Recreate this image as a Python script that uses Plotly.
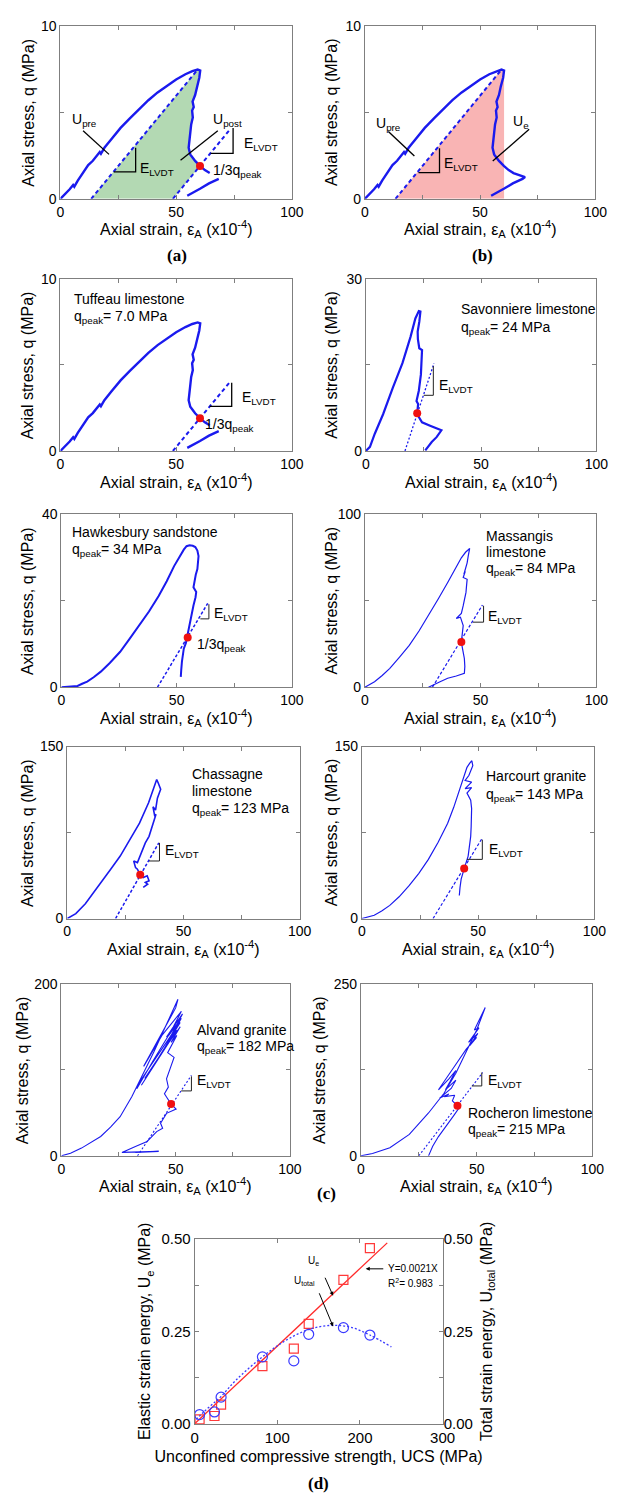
import plotly.graph_objects as go

W, H = 620, 1499
SANS = "Arial, 'Liberation Sans', Helvetica, sans-serif"
SERIF = "'Times New Roman', 'Liberation Serif', serif"
BLUE = "#1a1aee"
RED = "#f01010"
GREY = "#7f7f7f"
INK = "#222222"

# ---------------- stress-strain records (strain in 1e-4, stress in MPa) ----------------
# Tuffeau limestone, q_peak = 7.0 MPa
tuffeau_pre_strain = [0, 2, 4, 5.5, 6, 7.5, 9, 10.5, 12, 14, 16, 17, 17.5, 19, 22, 26, 30, 34, 38, 42, 46, 50, 54, 57, 59.3]
tuffeau_pre_stress = [0, 0.25, 0.55, 0.8, 0.7, 1.05, 1.35, 1.6, 1.95, 2.2, 2.55, 2.7, 2.6, 2.95, 3.45, 4.1, 4.65, 5.2, 5.7, 6.15, 6.55, 6.9, 7.2, 7.38, 7.47]
tuffeau_post_strain = [60.4, 60.0, 59.0, 58.2, 57.1, 57.6, 56.9, 57.2, 56.5, 56.1, 55.6, 55.4, 56.1, 58.2, 60.3, 62.4, 64.5, 67.0, 69.5, 68.4, 64.2, 60.3, 57.0, 54.8]
tuffeau_post_stress = [7.42, 7.0, 6.5, 6.0, 5.62, 5.3, 5.1, 4.7, 4.3, 3.7, 3.2, 2.95, 2.57, 2.19, 1.9, 1.66, 1.49, 1.36, 1.26, 1.15, 0.89, 0.58, 0.35, 0.18]
tuffeau_dot = [60.3, 1.9]
tuffeau_dot_index = 14            # position of the 1/3 q_peak point in the post-peak record
tuffeau_label_hidden = [17, 18]   # stretch of the hook covered by the 1/3 q_peak label
tuffeau_elvdt_pre = ([13.3, 59.3], [0, 7.47])
tuffeau_elvdt_post = ([48.6, 73.2], [0, 4.0])

# Savonniere limestone, q_peak = 24 MPa
savonniere_strain = [0, 1.8, 3.9, 7.5, 11.7, 15.9, 19.4, 21.5, 23.0, 23.7, 23.2, 22.5, 22.6, 23.2, 24.4, 24.2, 23.9, 23.0,
                     22.0, 22.7, 22.3, 23.0, 24.4, 27.9, 32.8, 30.7, 28.6, 25.8]
savonniere_stress = [0, 0.7, 3.0, 6.4, 11.0, 15.3, 19.9, 23.1, 24.4, 24.3, 22.5, 20.8, 19.5, 17.9, 17.6, 15.5, 13.3, 10.5,
                     8.7, 8.2, 6.55, 5.9, 5.0, 4.4, 3.6, 2.4, 1.55, 0.1]
savonniere_dot = [22.3, 6.55]
savonniere_elvdt = ([17.0, 29.6], [0, 15.3])

# Hawkesbury sandstone, q_peak = 34 MPa
hawkesbury_strain = [0, 4, 7, 9, 11.2, 14, 17.1, 21, 25.5, 29.5, 33.8, 38, 42.2, 45.7, 48.9, 51.2, 53.1, 54.3, 55.6, 57,
                     58.1, 59, 59.5, 59.2, 59, 58.3, 57.8, 57.3, 57.3, 58.5, 58.2, 57.3, 56.6, 56, 55.4, 54.8, 54,
                     53.1, 52.6, 52.3, 52, 51.8]
hawkesbury_stress = [0, 0.1, 0.3, 0.8, 1.3, 2.3, 3.6, 5.6, 8.2, 11.1, 14.3, 17.5, 21.1, 24.5, 28, 30.2, 31.8, 32.6, 32.8,
                     32.7, 32.4, 31.6, 30.3, 28.5, 27.3, 26, 24.8, 23.6, 23.1, 22, 20.8, 18.9, 17, 15, 13.2, 11.5, 10.2,
                     8.9, 7.4, 5.9, 4, 2.4]
hawkesbury_dot = [54.8, 11.5]
hawkesbury_elvdt = ([41.7, 63.5], [0, 19.4])

# Massangis limestone, q_peak = 84 MPa
massangis_strain = [0, 4.2, 7.5, 10.8, 15, 19.2, 23.4, 27.5, 31.7, 35.8, 38.8, 41.7, 43.5, 45, 45.3, 44.7, 44.2, 42.8,
                    43.4, 42.5, 44.2, 43.9, 43.7, 42.5, 41.7, 39.5, 41.3, 42.5, 42.2, 41.7, 42.2, 43, 43.2, 43, 39.5,
                    35.8, 32.5, 29.2, 27.5]
massangis_stress = [0, 3.2, 6.8, 10.9, 17.4, 24.2, 32.5, 41.4, 51, 60.5, 67.8, 74.8, 78, 80, 80.2, 76, 71.9, 65.3, 67,
                    63.4, 62.4, 58, 54.8, 47.1, 42.7, 39.7, 40.5, 35.7, 31, 26.1, 22.3, 16.6, 12, 8, 6.5, 5.2, 3.2, 1.3, 0]
massangis_dot = [41.7, 26.1]
massangis_elvdt = ([29.2, 50.8], [0, 47.5])

# Chassagne limestone, q_peak = 123 MPa
chassagne_strain = [0, 3.7, 7.8, 11, 14.5, 18.7, 22.8, 27, 31.1, 35, 38.5, 39.2, 40.2, 38.8, 38, 36.9, 37.7, 38.2, 36.5,
                    35.2, 33.6, 32.4, 31.4, 30.2, 28.6, 29.4, 30.2, 31.4, 32.7, 34.4, 35.2, 33.6, 34.6, 32.7]
chassagne_stress = [0, 4.3, 12.9, 21.5, 31.5, 43, 54.5, 68.5, 83.2, 101, 121.3, 118, 112.7, 105, 94.6, 97.5, 88.9, 91,
                    80.3, 71.7, 66, 60.2, 54.5, 48.8, 50.2, 44.4, 43, 38.1, 35.8, 37.3, 33, 31.5, 30, 27.2]
chassagne_dot = [31.4, 38.1]
chassagne_elvdt = ([20.8, 39.4], [0, 66])

# Harcourt granite, q_peak = 143 MPa
harcourt_strain = [0, 5.3, 8.5, 12, 16, 20.3, 24.5, 28.6, 32.8, 36.9, 39.5, 41.9, 43.6, 45.2, 46.4, 47.3, 47.7, 46, 44.4,
                   47.2, 44.4, 47.2, 45.2, 46.8, 47.2, 47.2, 47, 46.8, 46.3, 45.7, 44, 42.7, 42.2, 41.9]
harcourt_stress = [0, 2.9, 6.5, 11.5, 19, 28.7, 39.5, 51.6, 66.5, 83.2, 97, 111.8, 122, 131.9, 135.5, 137.6, 133.3, 124.7,
                   120.4, 119, 113.3, 114.1, 109.5, 103.2, 96, 88.9, 80, 71.7, 63, 54.5, 43.6, 34.4, 27, 20.1]
harcourt_dot = [44.0, 43.6]
harcourt_elvdt = ([30.6, 51.8], [0, 70.3])

# Alvand granite, q_peak = 182 MPa
alvand_strain = [0, 4, 8.8, 13, 17.2, 21.5, 25.7, 30.8, 35.8, 40.5, 45.5, 51,
                 50, 41, 36, 44, 52.5, 49, 46, 53, 48, 34, 33, 40, 51, 47, 52.5, 44, 36.5, 42, 52, 48, 50.5, 38,
                 35, 46, 52, 48, 50.5, 46.5,
                 49.3, 46.8, 46, 46.8, 45.1, 46, 48,
                 50.2, 46, 43.4, 44.3, 41.7, 37.5, 32.4, 26.5, 42.6, 32.4]
alvand_stress = [0, 3, 9, 15.5, 22.5, 33.5, 45.5, 68.6, 95, 121, 150, 182,
                 172, 128, 104, 140, 168, 150, 138, 165, 140, 85, 78, 110, 158, 140, 160, 120, 90, 112, 155, 138,
                 146, 94, 82, 128, 150, 132, 140, 120,
                 114.5, 95.3, 89.5, 79.9, 72.2, 68.4, 60.2,
                 54.4, 49.4, 37.8, 32, 28.2, 16.7, 11, 4, 5.2, 4]
alvand_dot = [48.0, 60.2]
alvand_elvdt = ([33.3, 56.9], [0, 93.6])

# Rocheron limestone, q_peak = 215 MPa
rocheron_strain = [0, 5, 12.5, 20.9, 29.2, 35.9, 41, 45.9, 50, 53.7,
                   52, 49, 51, 46.5, 50.5, 47, 50, 45.5, 40, 35, 33.5, 38, 41, 38.5, 36.5, 41, 39, 34, 38, 36, 40.5,
                   39.5, 41.7, 42.5, 40, 37, 33.5, 31, 29.2]
rocheron_stress = [0, 3.5, 11.9, 31.1, 62.3, 91, 120, 153.3, 183, 215.5,
                   203, 183, 186, 165, 178, 160, 172, 155, 128, 104, 96, 112, 124, 108, 96, 110, 98, 84, 90, 86, 88,
                   80, 72.8, 70, 58, 44, 28, 14, 0]
rocheron_dot = [41.7, 72.8]
rocheron_elvdt = ([25.0, 52.6], [0, 121.1])

# ---------------- strain energy versus UCS ----------------
ucs = [6, 24, 32, 82, 120, 138, 180, 212]
energy_elastic = [0.012, 0.021, 0.052, 0.156, 0.203, 0.270, 0.389, 0.475]
energy_total = [0.025, 0.032, 0.072, 0.181, 0.170, 0.242, 0.260, 0.240]
fit_slope = 0.0021
fit_r2 = 0.983
fit_ucs_end = 233
total_trend_ucs = [2, 10, 20, 32, 50, 82, 110, 138, 165, 189, 212, 238]
total_trend_energy = [0.012, 0.03, 0.05, 0.074, 0.118, 0.181, 0.225, 0.255, 0.266, 0.261, 0.240, 0.208]

# ---------------- page layout (pixel boxes: left, right, top, bottom) ----------------
panels = {
    1: dict(box=(58, 296, 17, 192), ymax=10, ytitle=25),
    2: dict(box=(371, 608, 17, 192), ymax=10, ytitle=337),
    3: dict(box=(58, 296, 273, 447), ymax=10, ytitle=25),
    4: dict(box=(372, 609, 273, 447), ymax=30, ytitle=337),
    5: dict(box=(59, 296, 511, 686), ymax=40, ytitle=24),
    6: dict(box=(371, 609, 511, 686), ymax=100, ytitle=337),
    7: dict(box=(65, 304, 746, 920), ymax=150, ytitle=24),
    8: dict(box=(368, 607, 746, 920), ymax=150, ytitle=337),
    9: dict(box=(59, 294, 986, 1160), ymax=200, ytitle=19),
    10: dict(box=(367, 605, 986, 1160), ymax=250, ytitle=325),
}
D_BOX = (196, 451, 1244, 1431)


def xr(k):
    return "x" if k == 1 else f"x{k}"


def yr(k):
    return "y" if k == 1 else f"y{k}"


def fx(p):
    return p / W


def fy(p):
    return 1 - p / H


def base_axis(size=14):
    return dict(showline=True, linecolor=GREY, linewidth=1, mirror="ticks", ticks="inside",
                ticklen=4, tickcolor=GREY, showgrid=False, zeroline=False, fixedrange=True,
                tickfont=dict(size=size, color="black", family=SANS))


layout = dict(width=W, height=H, margin=dict(l=0, r=0, t=0, b=0), paper_bgcolor="white",
              plot_bgcolor="white", showlegend=False, font=dict(family=SANS, size=14, color="black"))
annotations = []
traces = []

for k, p in panels.items():
    l, r, t, b = p["box"]
    ymax = p["ymax"]
    xa = base_axis()
    xa.update(domain=[fx(l), fx(r)], range=[0, 100], anchor=yr(k),
              tickvals=[0, 25, 50, 75, 100], ticktext=["0", "", "50", "", "100"])
    ya = base_axis()
    ya.update(domain=[fy(b), fy(t)], range=[0, ymax], anchor=xr(k),
              tickvals=[0, ymax / 2, ymax], ticktext=["0", "", str(ymax)])
    layout["xaxis" if k == 1 else f"xaxis{k}"] = xa
    layout["yaxis" if k == 1 else f"yaxis{k}"] = ya
    annotations.append(dict(xref="paper", yref="paper", x=fx((l + r) / 2), y=fy(b + 31),
                            text="Axial strain, ε<sub>A</sub> (x10<sup>-4</sup>)", showarrow=False,
                            xanchor="center", yanchor="middle", font=dict(size=16, family=SANS)))
    annotations.append(dict(xref="paper", yref="paper", x=fx(p["ytitle"]), y=fy((t + b) / 2),
                            text="Axial stress, q (MPa)", showarrow=False, textangle=-90,
                            xanchor="center", yanchor="middle", font=dict(size=16, family=SANS)))


def line(k, xs, ys, color=BLUE, width=2.2, dash="solid"):
    traces.append(go.Scatter(x=xs, y=ys, xaxis=xr(k), yaxis=yr(k), mode="lines",
                             line=dict(color=color, width=width, dash=dash), hoverinfo="skip"))


def dot(k, pt):
    traces.append(go.Scatter(x=[pt[0]], y=[pt[1]], xaxis=xr(k), yaxis=yr(k), mode="markers",
                             marker=dict(color=RED, size=8), hoverinfo="skip", cliponaxis=False))


def polygon(k, xs, ys, color):
    traces.append(go.Scatter(x=xs, y=ys, xaxis=xr(k), yaxis=yr(k), mode="lines", fill="toself",
                             fillcolor=color, line=dict(width=0, color=color), hoverinfo="skip"))


def text(k, x, y, s, size=14, anchor="left"):
    annotations.append(dict(xref=xr(k), yref=yr(k), x=x, y=y, text=s, showarrow=False,
                            xanchor=anchor, yanchor="middle", font=dict(size=size, family=SANS, color="black")))


def slope_mark(k, xv, ytop, ybot, xh, color=INK, width=1.0):
    line(k, [xv, xv, xh], [ytop, ybot, ybot], color=color, width=width)


tuf_x = tuffeau_pre_strain + tuffeau_post_strain
tuf_y = tuffeau_pre_stress + tuffeau_post_stress
n_pre = len(tuffeau_pre_strain)
hidden = [n_pre + i for i in tuffeau_label_hidden]
tuf_x_gap = [None if i in hidden else v for i, v in enumerate(tuf_x)]
tuf_y_gap = [None if i in hidden else v for i, v in enumerate(tuf_y)]
peak_x, peak_y = tuffeau_pre_strain[-1], tuffeau_pre_stress[-1]

# ---- (a) energy released after the peak ----
green_x = ([tuffeau_elvdt_pre[0][0], peak_x] + tuffeau_post_strain[:tuffeau_dot_index + 1]
           + [tuffeau_elvdt_post[0][0]])
green_y = ([0, peak_y] + tuffeau_post_stress[:tuffeau_dot_index + 1] + [0])
polygon(1, green_x, green_y, "#b3d9b3")
line(1, *tuffeau_elvdt_pre, width=2, dash="4px,3px")
line(1, *tuffeau_elvdt_post, width=2, dash="4px,3px")
line(1, tuf_x_gap, tuf_y_gap, width=2.4)
dot(1, tuffeau_dot)
line(1, [9.8, 21.0], [3.94, 2.57], color="black", width=1.3)
line(1, [68.0, 51.9], [3.94, 2.23], color="black", width=1.3)
slope_mark(1, 32.5, 2.95, 1.56, 23.1, color="black", width=1.3)
slope_mark(1, 74.6, 4.1, 2.63, 64.9, color="black", width=1.3)
text(1, 10.5, 4.55, "U<sub>pre</sub>", anchor="center")
text(1, 72.2, 4.55, "U<sub>post</sub>", anchor="center")
text(1, 33.7, 1.75, "E<sub>LVDT</sub>")
text(1, 78.5, 3.15, "E<sub>LVDT</sub>")
text(1, 65.2, 1.62, "1/3q<sub>peak</sub>")

# ---- (b) elastic energy stored at the peak ----
pink_x = [tuffeau_elvdt_pre[0][0], peak_x, tuffeau_post_strain[0], tuffeau_post_strain[0]]
pink_y = [0, peak_y, tuffeau_post_stress[0], 0]
polygon(2, pink_x, pink_y, "#f9b4b4")
line(2, *tuffeau_elvdt_pre, width=2, dash="4px,3px")
line(2, tuf_x, tuf_y, width=2.4)
line(2, [10.2, 21.5], [3.89, 2.47], color="black", width=1.3)
line(2, [71.3, 55.5], [4.02, 2.18], color="black", width=1.3)
slope_mark(2, 32.4, 2.92, 1.52, 23.3, color="black", width=1.3)
text(2, 10.2, 4.3, "U<sub>pre</sub>", anchor="center")
text(2, 67.7, 4.45, "U<sub>e</sub>", anchor="center")
text(2, 33.4, 2.0, "E<sub>LVDT</sub>")

# ---- (c) individual rocks ----
line(3, *tuffeau_elvdt_post, width=2, dash="4px,3px")
line(3, tuf_x_gap, tuf_y_gap, width=2.4)
dot(3, tuffeau_dot)
slope_mark(3, 74.0, 3.97, 2.59, 64.5, color="black", width=1.3)
text(3, 4.9, 8.85, "Tuffeau limestone")
text(3, 4.9, 7.8, "q<sub>peak</sub>= 7.0 MPa")
text(3, 77.8, 3.1, "E<sub>LVDT</sub>")
text(3, 61.7, 1.48, "1/3q<sub>peak</sub>")

line(4, *savonniere_elvdt, width=1.3, dash="2px,2px")
line(4, savonniere_strain, savonniere_stress, width=2.2)
dot(4, savonniere_dot)
slope_mark(4, 29.3, 14.8, 9.7, 25.1)
text(4, 40.3, 24.7, "Savonniere limestone")
text(4, 40.3, 21.5, "q<sub>peak</sub>= 24 MPa")
text(4, 30.7, 11.3, "E<sub>LVDT</sub>")

line(5, *hawkesbury_elvdt, width=1.5, dash="3px,2px")
line(5, hawkesbury_strain, hawkesbury_stress, width=2.0)
dot(5, hawkesbury_dot)
slope_mark(5, 64.0, 19.2, 15.8, 60.3)
text(5, 3.7, 35.8, "Hawkesbury sandstone")
text(5, 3.7, 31.8, "q<sub>peak</sub>= 34 MPa")
text(5, 65.2, 16.9, "E<sub>LVDT</sub>")
text(5, 58.1, 9.7, "1/3q<sub>peak</sub>")

line(6, *massangis_elvdt, width=1.2, dash="3px,2px")
line(6, massangis_strain, massangis_stress, width=1.2)
dot(6, massangis_dot)
slope_mark(6, 51.3, 47.1, 37.6, 46.7)
text(6, 51.7, 87.6, "Massangis")
text(6, 51.7, 78.0, "limestone")
text(6, 51.7, 68.1, "q<sub>peak</sub>= 84 MPa")
text(6, 52.5, 40.5, "E<sub>LVDT</sub>")

line(7, *chassagne_elvdt, width=1.5, dash="3px,2px")
line(7, chassagne_strain, chassagne_stress, width=1.6)
dot(7, chassagne_dot)
slope_mark(7, 39.7, 66, 50.2, 35.2)
text(7, 52.7, 126.2, "Chassagne")
text(7, 52.7, 111.0, "limestone")
text(7, 52.7, 95.2, "q<sub>peak</sub>= 123 MPa")
text(7, 41.3, 58.8, "E<sub>LVDT</sub>")

line(8, *harcourt_elvdt, width=1.2, dash="3px,2px")
line(8, harcourt_strain, harcourt_stress, width=1.2)
dot(8, harcourt_dot)
slope_mark(8, 51.8, 68.8, 51.6, 45.2)
text(8, 52.7, 124.7, "Harcourt granite")
text(8, 52.7, 108.0, "q<sub>peak</sub>= 143 MPa")
text(8, 53.8, 60.0, "E<sub>LVDT</sub>")

line(9, *alvand_elvdt, width=1.1, dash="2px,2px")
line(9, alvand_strain, alvand_stress, width=1.1)
dot(9, alvand_dot)
slope_mark(9, 56.9, 92.4, 75.5, 52.4)
text(9, 58.6, 146.0, "Alvand granite")
text(9, 58.6, 126.2, "q<sub>peak</sub>= 182 MPa")
text(9, 58.6, 87.0, "E<sub>LVDT</sub>")

line(10, *rocheron_elvdt, width=1.1, dash="2px,2px")
line(10, rocheron_strain, rocheron_stress, width=1.1)
dot(10, rocheron_dot)
slope_mark(10, 52.2, 121.1, 101.6, 47.9)
text(10, 45.5, 62.0, "Rocheron limestone")
text(10, 45.5, 37.0, "q<sub>peak</sub>= 215 MPa")
text(10, 54.0, 109.0, "E<sub>LVDT</sub>")

# ---- (d) strain energy against UCS ----
l, r, t, b = D_BOX
title_font = dict(size=16, family=SANS, color="black")
xd = base_axis(15)
xd.update(domain=[fx(l), fx(r)], range=[0, 300], anchor="y11", tickvals=[0, 100, 200, 300],
          title=dict(text="Unconfined compressive strength, UCS (MPa)", font=title_font, standoff=6))
yd = base_axis(15)
yd.update(domain=[fy(b), fy(t)], range=[0, 0.5], anchor="x11",
          tickvals=[0, 0.125, 0.25, 0.375, 0.5], ticktext=["0.00", "", "0.25", "", "0.50"],
          title=dict(text="Elastic strain energy, U<sub>e</sub> (MPa)", font=title_font, standoff=6))
yd2 = base_axis(15)
yd2.update(overlaying="y11", side="right", range=[0, 0.5], anchor="x11", showline=False, ticks="",
           tickvals=[0, 0.25, 0.5], ticktext=["0.00", "0.25", "0.50"],
           title=dict(text="Total strain energy, U<sub>total</sub> (MPa)", font=title_font, standoff=8))
layout["xaxis11"] = xd
layout["yaxis11"] = yd
layout["yaxis12"] = yd2

traces.append(go.Scatter(x=[0, fit_ucs_end], y=[0, fit_slope * fit_ucs_end], xaxis="x11", yaxis="y11",
                         mode="lines", line=dict(color="#ff2a2a", width=1.3), hoverinfo="skip"))
traces.append(go.Scatter(x=total_trend_ucs, y=total_trend_energy, xaxis="x11", yaxis="y12", mode="lines",
                         line=dict(color="#3a3aff", width=1.3, dash="2px,2px", shape="spline"), hoverinfo="skip"))
traces.append(go.Scatter(x=ucs, y=energy_elastic, xaxis="x11", yaxis="y11", mode="markers",
                         marker=dict(symbol="square-open", size=9, color="#ff3a3a", line=dict(width=1.2)),
                         hoverinfo="skip", cliponaxis=False))
traces.append(go.Scatter(x=ucs, y=energy_total, xaxis="x11", yaxis="y12", mode="markers",
                         marker=dict(symbol="circle-open", size=10, color="#3a3aff", line=dict(width=1.2)),
                         hoverinfo="skip", cliponaxis=False))

small = dict(size=10, family=SANS, color="black")
annotations += [
    dict(xref="x11", yref="y11", x=143.5, y=0.439, text="U<sub>e</sub>", showarrow=False, font=small),
    dict(xref="x11", yref="y11", x=133.3, y=0.386, text="U<sub>total</sub>", showarrow=False, font=small),
    dict(xref="x11", yref="y11", x=167.5, y=0.346, ax=157, ay=0.399, axref="x11", ayref="y11", text="",
         showarrow=True, arrowhead=2, arrowsize=0.8, arrowwidth=1, arrowcolor="black"),
    dict(xref="x11", yref="y11", x=167.5, y=0.263, ax=150, ay=0.357, axref="x11", ayref="y11", text="",
         showarrow=True, arrowhead=2, arrowsize=0.8, arrowwidth=1, arrowcolor="black"),
    dict(xref="x11", yref="y11", x=207, y=0.419, ax=230, ay=0.419, axref="x11", ayref="y11", text="",
         showarrow=True, arrowhead=2, arrowsize=0.8, arrowwidth=1, arrowcolor="black"),
    dict(xref="x11", yref="y11", x=232, y=0.42, text=f"Y={fit_slope}X", showarrow=False, xanchor="left", font=small),
    dict(xref="x11", yref="y11", x=232, y=0.382, text=f"R<sup>2</sup>= {fit_r2}", showarrow=False,
         xanchor="left", font=small),
]

# ---- panel captions ----
for cap, cx, cy in [("(a)", 178, 249), ("(b)", 492, 249), ("(c)", 332, 1198), ("(d)", 323, 1491)]:
    annotations.append(dict(xref="paper", yref="paper", x=fx(cx), y=fy(cy), text=f"<b>{cap}</b>",
                            showarrow=False, xanchor="center", yanchor="middle",
                            font=dict(size=17, family=SERIF, color="black")))

layout["annotations"] = annotations
fig = go.Figure(data=traces, layout=layout)
fig.write_html("out.html", config={"displayModeBar": False, "staticPlot": True})
